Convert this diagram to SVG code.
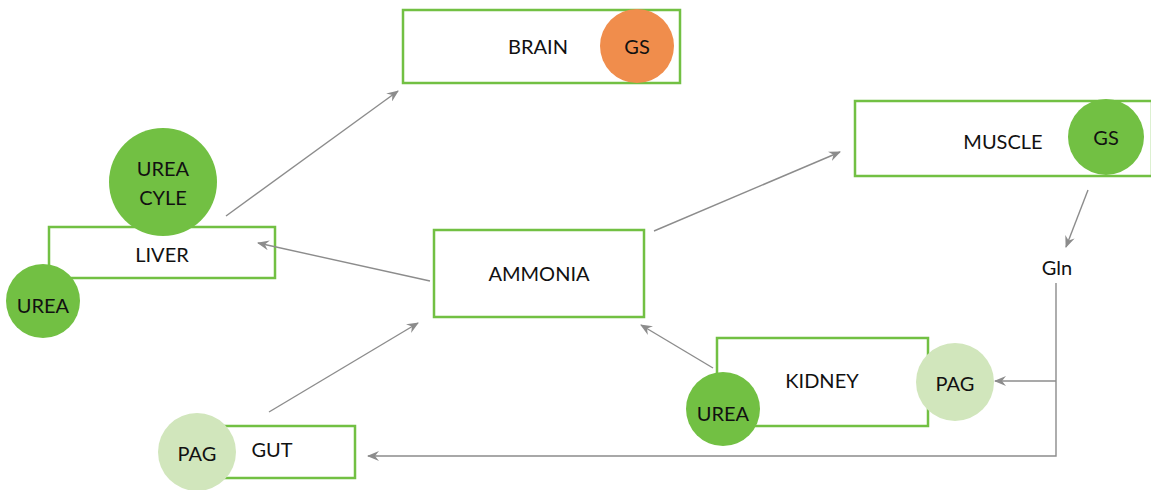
<svg xmlns="http://www.w3.org/2000/svg" width="1151" height="490" viewBox="0 0 1151 490">
<style>
.box{fill:#fff;stroke:#72c043;stroke-width:2.5}
.dk{fill:#72c043}
.lt{fill:#d1e6bc}
.or{fill:#f08d4c}
text{font-family:Lato,"Noto Sans",sans-serif;font-size:20px;fill:#111;text-anchor:middle;dominant-baseline:central}
.c{fill:none;stroke:#8c8c8c;stroke-width:1.4}
</style>
<defs>
<marker id="ah" viewBox="0 0 12 10" refX="11" refY="5" markerWidth="12" markerHeight="10" markerUnits="userSpaceOnUse" orient="auto">
<path d="M0,0 L12,5 L0,10 L4,5 z" fill="#8c8c8c"/>
</marker>
</defs>
<g id="brain">
<rect class="box" x="403" y="10" width="277" height="73"/>
<text x="538" y="46">BRAIN</text>
<circle class="or" cx="637" cy="46" r="37"/>
<text x="637" y="46">GS</text>
</g>
<g id="liver">
<rect class="box" x="49" y="227" width="226" height="51"/>
<text x="162" y="254">LIVER</text>
<circle class="dk" cx="163" cy="182" r="54"/>
<text x="163" y="168">UREA</text>
<text x="163" y="197">CYLE</text>
<circle class="dk" cx="43" cy="301" r="37"/>
<text x="43" y="305">UREA</text>
</g>
<g id="ammonia">
<rect class="box" x="434" y="230" width="210" height="87"/>
<text x="539" y="273">AMMONIA</text>
</g>
<g id="muscle">
<rect class="box" x="855" y="101" width="297" height="75"/>
<text x="1003" y="141">MUSCLE</text>
<circle class="dk" cx="1106" cy="137" r="38"/>
<text x="1106" y="137">GS</text>
</g>
<g id="gln">
<text x="1057" y="267">Gln</text>
</g>
<g id="kidney">
<rect class="box" x="717" y="338" width="211" height="88"/>
<text x="822" y="380">KIDNEY</text>
<circle class="dk" cx="723" cy="409" r="37"/>
<text x="723" y="413">UREA</text>
<circle class="lt" cx="955" cy="382" r="39"/>
<text x="955" y="383">PAG</text>
</g>
<g id="gut">
<rect class="box" x="205" y="426" width="150" height="52"/>
<text x="272" y="449">GUT</text>
<circle class="lt" cx="197" cy="452" r="39"/>
<text x="197" y="453">PAG</text>
</g>
<g id="connectors">
<line class="c" x1="226" y1="216" x2="398" y2="91" marker-end="url(#ah)"/>
<line class="c" x1="430" y1="281" x2="258" y2="243" marker-end="url(#ah)"/>
<line class="c" x1="654" y1="231" x2="840" y2="152" marker-end="url(#ah)"/>
<line class="c" x1="1088" y1="190" x2="1066" y2="247" marker-end="url(#ah)"/>
<line class="c" x1="713" y1="368" x2="641" y2="325" marker-end="url(#ah)"/>
<line class="c" x1="269" y1="412" x2="418" y2="323" marker-end="url(#ah)"/>
<polyline class="c" points="1056,283 1056,456 368,456" marker-end="url(#ah)"/>
<line class="c" x1="1056" y1="381" x2="995" y2="381" marker-end="url(#ah)"/>
</g>
</svg>
